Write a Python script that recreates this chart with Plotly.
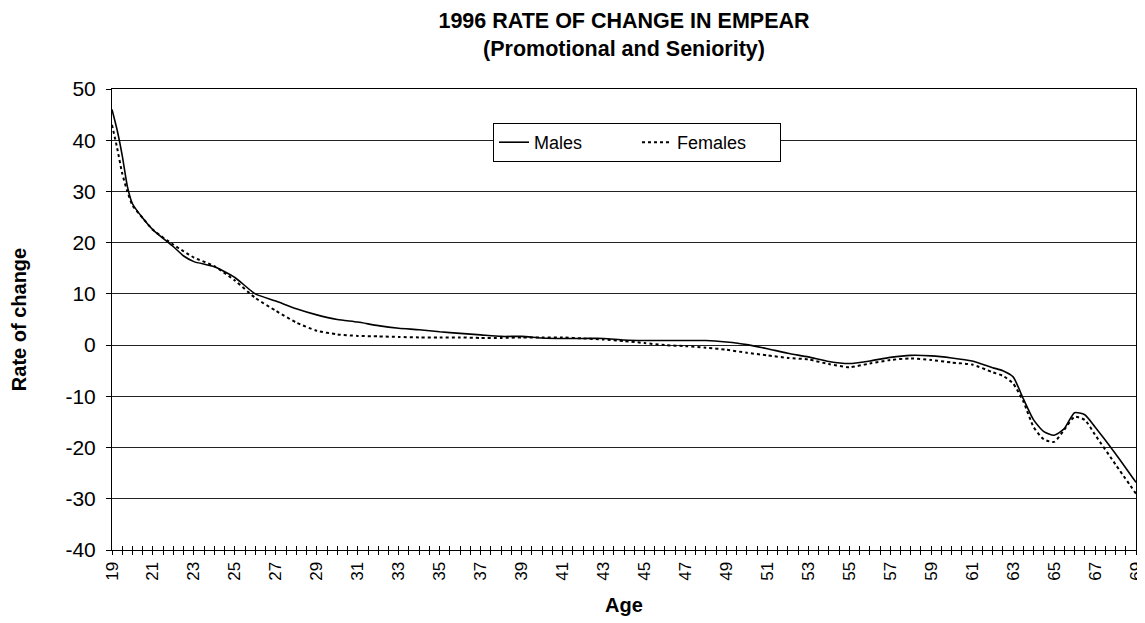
import plotly.graph_objects as go

ages = [19, 19.25, 19.5, 19.75, 20, 20.5, 21, 22, 22.5, 23, 24, 25, 26, 27, 28, 29, 30,
        31, 32, 33, 34, 35, 36, 37, 38, 39, 40, 41, 42, 43, 44, 45, 46, 47, 48, 49, 50,
        51, 52, 53, 54, 55, 56, 57, 58, 59, 60, 61, 62, 62.5, 63, 63.5, 64, 64.5, 65,
        65.5, 66, 66.5, 67, 68, 69]

males = [46.0, 42.0, 37.0, 31.0, 27.6, 24.8, 22.5, 19.2, 17.4, 16.3, 15.3, 13.2, 10.0, 8.6, 7.1, 5.9, 5.0,
         4.5, 3.8, 3.3, 3.0, 2.6, 2.3, 2.0, 1.7, 1.7, 1.4, 1.3, 1.3, 1.3, 1.0, 0.9, 0.9, 0.9, 0.9, 0.6, 0.1,
         -0.7, -1.6, -2.3, -3.2, -3.6, -3.1, -2.4, -2.0, -2.1, -2.5, -3.1, -4.4, -5.0, -6.2, -10.5, -14.6, -16.9, -17.6,
         -16.3, -13.2, -13.6, -16.0, -21.2, -26.8]

females = [43.0, 38.5, 33.5, 30.0, 27.3, 24.8, 22.5, 19.6, 18.3, 17.1, 15.4, 12.6, 9.2, 6.7, 4.4, 2.8, 2.1,
           1.8, 1.7, 1.6, 1.5, 1.5, 1.5, 1.4, 1.4, 1.5, 1.5, 1.5, 1.3, 1.1, 0.8, 0.4, 0.0, -0.2, -0.5, -0.9, -1.5,
           -2.0, -2.5, -2.8, -3.7, -4.3, -3.6, -2.9, -2.6, -2.9, -3.4, -3.8, -5.3, -6.0, -7.5, -11.0, -16.0, -18.4, -18.9,
           -16.5, -14.0, -14.6, -17.5, -23.3, -29.0]

y_ticks = [50, 40, 30, 20, 10, 0, -10, -20, -30, -40]
y_tick_labels = ["50", "40", "30", "20", "10", "0", "-10", "-20", "-30", "-40"]

title_lines = ["1996 RATE OF CHANGE IN EMPEAR", "(Promotional and Seniority)"]
font_family = "Arial, Liberation Sans, sans-serif"

fig = go.Figure()
fig.add_trace(go.Scatter(x=ages, y=males, name="Males", mode="lines",
                         line=dict(color="black", width=1.6, shape="spline", smoothing=0.6)))
fig.add_trace(go.Scatter(x=ages, y=females, name="Females", mode="lines",
                         line=dict(color="black", width=2, dash="dot", shape="spline", smoothing=0.6)))
# helper trace on overlay axis, so tick marks can cross the x axis line
fig.add_trace(go.Scatter(x=[ages[0]], y=[None], xaxis="x2", showlegend=False,
                         hoverinfo="skip", mode="lines"))

fig.update_layout(
    width=1145, height=623,
    paper_bgcolor="white", plot_bgcolor="white",
    margin=dict(l=104, r=17, t=81, b=81),
    font=dict(family=font_family, size=18, color="black"),
    title=dict(text="<br>".join("<b>" + t + "</b>" for t in title_lines),
               x=616 / 1145, xanchor="center", y=1 - 20 / 623, yanchor="top",
               font=dict(size=21.5, family=font_family)),
    legend=dict(orientation="h", x=(493 - 112) / 1024, y=(550 - 123) / 461,
                xanchor="left", yanchor="top",
                bordercolor="black", borderwidth=1, bgcolor="white",
                font=dict(size=18), entrywidth=98, entrywidthmode="pixels"),
    showlegend=True,
    xaxis=dict(range=[19, 69], tick0=19, dtick=2, tickangle=-90, automargin=False,
               ticks="outside", ticklen=4, tickcolor="black",
               minor=dict(dtick=0.5, tick0=19, ticks="outside", ticklen=4, tickcolor="black"),
               showline=True, linecolor="black", linewidth=1, mirror=True,
               showgrid=False, zeroline=False,
               title=dict(text="<b>Age</b>", font=dict(size=20), standoff=18),
               tickfont=dict(size=17)),
    xaxis2=dict(overlaying="x", range=[19, 69], tick0=19, dtick=2, ticks="inside",
                ticklen=4, tickcolor="black", showticklabels=False, showgrid=False,
                zeroline=False, showline=False, side="bottom",
                minor=dict(dtick=0.5, tick0=19, ticks="inside", ticklen=4, tickcolor="black")),
    yaxis=dict(range=[-40, 50], tickvals=y_ticks, ticktext=y_tick_labels, automargin=False,
               ticks="outside", ticklen=5, tickcolor="black", ticklabelstandoff=6,
               showline=True, linecolor="black", linewidth=1, mirror=True,
               showgrid=True, gridcolor="#222222", gridwidth=1, zeroline=False,
               title=dict(text="<b>Rate of change</b>", font=dict(size=20), standoff=34),
               tickfont=dict(size=21)),
)

fig.write_html("out.html")
